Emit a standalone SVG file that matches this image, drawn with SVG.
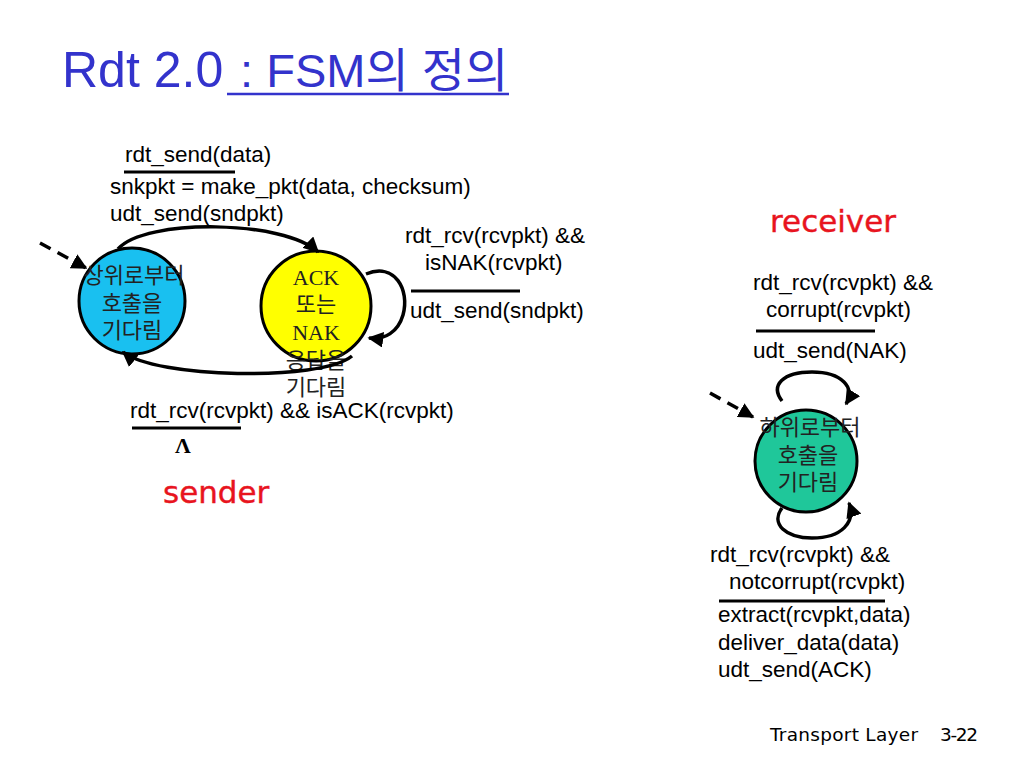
<svg xmlns="http://www.w3.org/2000/svg" width="1024" height="768" viewBox="0 0 1024 768">
<defs>
<marker id="ah" viewBox="0 0 10 10" refX="9" refY="5" markerWidth="4.5" markerHeight="4.5" orient="auto" markerUnits="strokeWidth">
<path d="M0,0 L10,5 L0,10 z" fill="#000"/>
</marker>
<style>
.lbl{font-family:"Liberation Sans",Arial,sans-serif;font-size:22.5px;fill:#000}
.node{font-family:"Liberation Serif","Noto Sans CJK KR",serif;font-size:22px;fill:#222;text-anchor:middle}
.red{font-family:"DejaVu Sans","Liberation Sans",sans-serif;font-size:31px;fill:#e8141e;stroke:#e8141e;stroke-width:0.4}
.foot{font-family:"DejaVu Sans",sans-serif;font-size:18.5px;fill:#000}
.bar{stroke:#000;stroke-width:3}
.edge{fill:none;stroke:#000;stroke-width:3.5;marker-end:url(#ah)}
.dash{fill:none;stroke:#000;stroke-width:3.5;stroke-dasharray:12,8;marker-end:url(#ah)}
</style>
</defs>
<rect width="1024" height="768" fill="#fff"/>

<g id="title">
<text x="62" y="87" font-family="Liberation Sans,Arial,Noto Sans CJK KR,sans-serif" font-size="50" fill="#3333cc">Rdt 2.0<tspan x="227" font-size="47"> : FSM의 정의</tspan></text>
<line x1="227" y1="94" x2="509" y2="94" stroke="#3333cc" stroke-width="2.5"/>
</g>

<g id="sender-wait-call">
<circle cx="132" cy="301" r="53" fill="#19c0f0" stroke="#000" stroke-width="3"/>
<text class="node" x="134" y="283">상위로부터</text>
<text class="node" x="132" y="311">호출을</text>
<text class="node" x="132" y="338">기다림</text>
</g>

<g id="sender-wait-ack">
<circle cx="316" cy="306" r="55" fill="#ffff00" stroke="#000" stroke-width="3"/>
<text class="node" x="316" y="285">ACK</text>
<text class="node" x="316" y="312">또는</text>
<text class="node" x="316" y="340">NAK</text>
<text class="node" x="316" y="368">응답을</text>
<text class="node" x="316" y="395">기다림</text>
</g>

<g id="receiver-wait">
<circle cx="806" cy="461" r="51" fill="#1fc79a" stroke="#000" stroke-width="3"/>
<text class="node" x="810" y="435">하위로부터</text>
<text class="node" x="808" y="463">호출을</text>
<text class="node" x="808" y="490">기다림</text>
</g>

<g id="connectors">
<path class="dash" d="M40,243 L86,268"/>
<path class="edge" d="M118,249 C145,218 285,220 318,252"/>
<path class="edge" d="M352,356 C320,382 155,378 123,352"/>
<path class="edge" d="M366,274 C395,262 410,290 403,315 C398,332 385,340 369,338"/>
<path class="dash" d="M710,393 L753,417"/>
<path class="edge" d="M782,401 C770,385 783,372 812,372 C842,372 856,388 846,404"/>
<path class="edge" d="M782,508 C770,524 786,538 812,538 C842,538 856,522 849,503"/>
</g>

<g id="labels-sender">
<text class="lbl" x="125" y="162">rdt_send(data)</text>
<line class="bar" x1="124" y1="172" x2="235" y2="172"/>
<text class="lbl" x="110" y="194">snkpkt = make_pkt(data, checksum)</text>
<text class="lbl" x="110" y="221">udt_send(sndpkt)</text>
<text class="lbl" x="405" y="243">rdt_rcv(rcvpkt) &amp;&amp;</text>
<text class="lbl" x="425" y="270">isNAK(rcvpkt)</text>
<line class="bar" x1="411" y1="291" x2="520" y2="291"/>
<text class="lbl" x="410" y="318">udt_send(sndpkt)</text>
<text class="lbl" x="130" y="418">rdt_rcv(rcvpkt) &amp;&amp; isACK(rcvpkt)</text>
<line class="bar" x1="132" y1="428" x2="241" y2="428"/>
<text x="175" y="453" font-family="Liberation Serif,serif" font-weight="bold" font-size="22">Λ</text>
<text class="red" x="163" y="503">sender</text>
</g>

<g id="labels-receiver">
<text class="red" x="770" y="232">receiver</text>
<text class="lbl" x="753" y="290">rdt_rcv(rcvpkt) &amp;&amp;</text>
<text class="lbl" x="766" y="317">corrupt(rcvpkt)</text>
<line class="bar" x1="756" y1="331" x2="875" y2="331"/>
<text class="lbl" x="753" y="358">udt_send(NAK)</text>
<text class="lbl" x="710" y="562">rdt_rcv(rcvpkt) &amp;&amp;</text>
<text class="lbl" x="729" y="589">notcorrupt(rcvpkt)</text>
<line class="bar" x1="719" y1="601" x2="885" y2="601"/>
<text class="lbl" x="718" y="622">extract(rcvpkt,data)</text>
<text class="lbl" x="718" y="650">deliver_data(data)</text>
<text class="lbl" x="718" y="677">udt_send(ACK)</text>
</g>

<g id="footer">
<text class="foot" x="770" y="741" textLength="148">Transport Layer</text>
<text class="foot" x="940" y="741" textLength="38">3-22</text>
</g>
</svg>
